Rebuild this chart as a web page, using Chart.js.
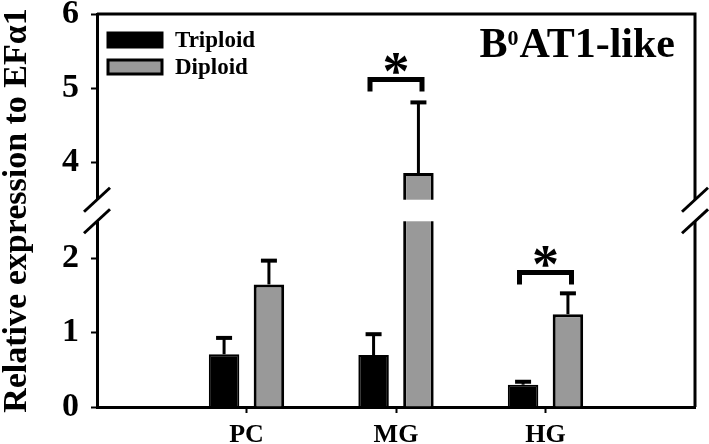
<!DOCTYPE html>
<html>
<head>
<meta charset="utf-8">
<script src="https://cdn.jsdelivr.net/npm/chart.js@4.4.0/dist/chart.umd.min.js"></script>
<style>
  html, body { margin: 0; padding: 0; background: #fff; }
</style>
</head>
<body>
<canvas id="chartBAT" width="709" height="444"></canvas>
<script>
const categories = ['PC', 'MG', 'HG'];
const triploid = [0.71, 0.70, 0.30];
const triploidErr = [0.22, 0.28, 0.04];
const diploid = [1.65, 3.86, 1.25];
const diploidErr = [0.32, 0.95, 0.28];
const sigMarks = ['', '*', '*'];
const sigHeights = [null, 5.12, 1.81];
const yTickLabels = [0, 1, 2, 4, 5, 6];

// broken y axis: 0..2.5 below the break, 3.5..6 above it
const breakLow = 2.5;
const breakHigh = 3.5;
const breakShift = 0.71;
function disp(v) { return v >= breakHigh ? v - breakShift : v; }

const serif = "'Liberation Serif', 'Times New Roman', serif";
const pad = arr => [null, ...arr, null];

const errorBars = {
  id: 'errorBars',
  afterDatasetsDraw(chart) {
    const c = chart.ctx, y = chart.scales.y, area = chart.chartArea;
    chart.data.datasets.forEach((ds, di) => {
      const meta = chart.getDatasetMeta(di);
      meta.data.forEach((bar, i) => {
        const err = ds.errors[i];
        if (err == null) return;
        const top = y.getPixelForValue(disp(ds.raw[i] + err));
        c.save();
        c.strokeStyle = '#000';
        c.lineWidth = 3;
        c.beginPath(); c.moveTo(bar.x, bar.y); c.lineTo(bar.x, top); c.stroke();
        c.lineWidth = 4;
        c.beginPath(); c.moveTo(bar.x - 8, top); c.lineTo(bar.x + 8, top); c.stroke();
        c.restore();
      });
    });
    // significance brackets
    const x = chart.scales.x;
    c.save();
    c.strokeStyle = '#000';
    c.fillStyle = '#000';
    sigHeights.forEach((h, i) => {
      if (h == null) return;
      const xc = x.getPixelForValue(i + 1);
      const yb = y.getPixelForValue(disp(h));
      c.lineWidth = 5;
      c.beginPath();
      c.moveTo(xc - 26, yb + 12); c.lineTo(xc - 26, yb); c.lineTo(xc + 26, yb); c.lineTo(xc + 26, yb + 12);
      c.stroke();
      c.font = 'bold 54px ' + serif;
      c.textAlign = 'center';
      c.textBaseline = 'alphabetic';
      c.fillText(sigMarks[i], xc, yb - 16 + 0.47 * 54);
    });
    // frame top and right
    c.lineWidth = 3;
    c.beginPath();
    c.moveTo(area.left, area.top); c.lineTo(area.right, area.top); c.lineTo(area.right, area.bottom);
    c.stroke();
    c.restore();
  },
  afterDraw(chart) {
    const c = chart.ctx, y = chart.scales.y, area = chart.chartArea;
    const yHi = y.getPixelForValue(disp(breakHigh));
    const yLo = y.getPixelForValue(breakLow);
    c.save();
    c.fillStyle = '#fff';
    c.fillRect(area.left - 4, yHi, area.right - area.left + 8, yLo - yHi);
    c.strokeStyle = '#000';
    c.lineWidth = 3;
    [area.left, area.right].forEach(ax => {
      [yHi, yLo].forEach(yy => {
        c.beginPath(); c.moveTo(ax - 13, yy + 12); c.lineTo(ax + 13, yy - 12); c.stroke();
      });
    });
    // legend
    chart.data.datasets.forEach((ds, k) => {
      const bx = area.left + 11, by = area.top + 19 + k * 27;
      c.fillStyle = ds.backgroundColor;
      c.fillRect(bx, by, 54, 14);
      c.lineWidth = 3;
      c.strokeRect(bx, by, 54, 14);
      c.fillStyle = '#000';
      c.font = 'bold 23px ' + serif;
      c.textAlign = 'left';
      c.textBaseline = 'middle';
      c.fillText(ds.label, area.left + 78, by + 8);
    });
    // gene name with superscript
    const big = 'bold 42px ' + serif, small = 'bold 22px ' + serif;
    c.font = big; const wB = c.measureText('B').width; const wRest = c.measureText('AT1-like').width;
    c.font = small; const wSup = c.measureText('0').width + 1;
    let tx = area.right - 20 - (wB + wSup + wRest);
    const base = area.top + 43;
    c.textAlign = 'left';
    c.textBaseline = 'alphabetic';
    c.font = big; c.fillText('B', tx, base); tx += wB;
    c.font = small; c.fillText('0', tx, base - 12); tx += wSup;
    c.font = big; c.fillText('AT1-like', tx, base);
    c.restore();
  }
};

const ctx = document.getElementById('chartBAT');

new Chart(ctx, {
  type: 'bar',
  data: {
    labels: ['', ...categories, ''],
    datasets: [{
      label: 'Triploid',
      data: pad(triploid).map(v => v == null ? null : disp(v)),
      raw: pad(triploid),
      errors: pad(triploidErr),
      backgroundColor: '#000000',
      borderColor: '#000000',
      borderWidth: 2
    }, {
      label: 'Diploid',
      data: pad(diploid).map(v => v == null ? null : disp(v)),
      raw: pad(diploid),
      errors: pad(diploidErr),
      backgroundColor: '#999999',
      borderColor: '#000000',
      borderWidth: 3
    }]
  },
  options: {
    responsive: false,
    animation: false,
    devicePixelRatio: 1,
    categoryPercentage: 0.6,
    barPercentage: 0.68,
    layout: { padding: { top: 14, right: 14, left: 0, bottom: 0 } },
    plugins: {
      legend: { display: false },
      tooltip: { enabled: false }
    },
    scales: {
      x: {
        offset: false,
        z: 1,
        grid: {
          offset: false,
          drawOnChartArea: false,
          tickLength: 6,
          tickWidth: 2,
          tickColor: c => (c.tick && c.tick.label) ? '#000' : 'rgba(0,0,0,0)'
        },
        border: { color: '#000', width: 3 },
        ticks: {
          color: '#000',
          font: { family: serif, size: 26, weight: 'bold' },
          padding: 7,
          maxRotation: 0,
          autoSkip: false
        },
        afterFit: s => { s.height = 37; }
      },
      y: {
        min: 0,
        max: disp(6),
        z: 1,
        afterBuildTicks: s => { s.ticks = yTickLabels.map(v => ({ value: disp(v) })); },
        grid: {
          drawOnChartArea: false,
          tickLength: 6,
          tickWidth: 2,
          tickColor: '#000'
        },
        border: { color: '#000', width: 3 },
        ticks: {
          color: '#000',
          font: { family: serif, size: 34, weight: 'bold', lineHeight: 0.82 },
          padding: 12,
          callback: (v, i) => yTickLabels[i]
        },
        title: {
          display: true,
          text: 'Relative expression to EFα1',
          color: '#000',
          font: { family: serif, size: 34, weight: 'bold', lineHeight: 1 },
          padding: 0
        },
        afterFit: s => { s.width = 97; s.paddingTop = 0; s.paddingBottom = 0; }
      }
    }
  },
  plugins: [errorBars]
});
</script>
</body>
</html>
